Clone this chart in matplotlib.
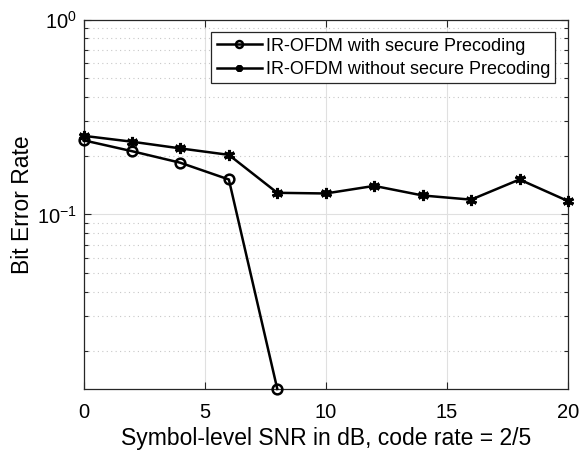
import matplotlib
matplotlib.use("Agg")
import matplotlib.pyplot as plt
from matplotlib.ticker import LogLocator, NullFormatter

plt.rcParams['font.family'] = ['Liberation Sans', 'DejaVu Sans']
plt.rcParams['mathtext.fontset'] = 'custom'
plt.rcParams['mathtext.rm'] = 'Liberation Sans'
plt.rcParams['mathtext.it'] = 'Liberation Sans'
plt.rcParams['mathtext.default'] = 'regular'

snr = [0, 2, 4, 6, 8, 10, 12, 14, 16, 18, 20]
snr_sec = [0, 2, 4, 6, 8]
ber_sec = [0.240, 0.211, 0.184, 0.151, 0.0127]
ber_nosec = [0.253, 0.236, 0.218, 0.202, 0.129, 0.128, 0.140, 0.125, 0.119, 0.151, 0.117]

fig = plt.figure(figsize=(5.81, 4.54), dpi=100)
ax = fig.add_axes([83.5 / 581, 1 - 389 / 454, (568 - 83.5) / 581, (389 - 19.5) / 454])

ax.semilogy(snr_sec, ber_sec, '-o', color='k', lw=1.8, ms=7, mfc='none', mew=1.8,
            clip_on=False, zorder=3, label='IR-OFDM with secure Precoding')
ax.semilogy(snr, ber_nosec, '-', color='k', lw=1.8, marker=(6, 2, 0), ms=8, mew=2.2,
            clip_on=False, zorder=3, label='IR-OFDM without secure Precoding')

ax.set_xlim(0, 20)
ax.set_ylim(0.0127, 1)
ax.set_xticks([0, 5, 10, 15, 20])
ax.yaxis.set_major_locator(LogLocator(base=10, numticks=10))
ax.yaxis.set_minor_locator(LogLocator(base=10, subs=range(2, 10), numticks=20))
ax.yaxis.set_minor_formatter(NullFormatter())

ax.grid(True, which='major', color='#e0e0e0', lw=0.8, ls='-')
ax.grid(True, which='minor', axis='y', color='#c8c8c8', lw=0.8, ls=(0, (1, 3)))
ax.set_axisbelow(True)

ax.tick_params(which='both', direction='in', top=True, right=True, colors='#262626',
               labelcolor='k', labelsize=14.5, width=0.8)
ax.tick_params(which='major', length=5)
ax.tick_params(axis='x', which='major', pad=10)
ax.tick_params(axis='y', which='major', pad=5)
ax.tick_params(which='minor', length=3)
for s in ax.spines.values():
    s.set_color('#262626')
    s.set_linewidth(0.9)

ax.set_xlabel('Symbol-level SNR in dB, code rate = 2/5', fontsize=16.5)
ax.set_ylabel('Bit Error Rate', fontsize=16.5)
ax.xaxis.set_label_coords(0.5, -0.103)
ax.yaxis.set_label_coords(-0.103, 0.5)

leg = ax.legend(loc='upper right', fontsize=13, fancybox=False, framealpha=1,
                edgecolor='#262626', handlelength=2.5, borderaxespad=0.7,
                borderpad=0.3, labelspacing=0.35, handletextpad=0.2)
leg.get_frame().set_linewidth(0.9)
for h in leg.legend_handles:
    h.set_markersize(5)

fig.savefig('out.png', dpi=100)
